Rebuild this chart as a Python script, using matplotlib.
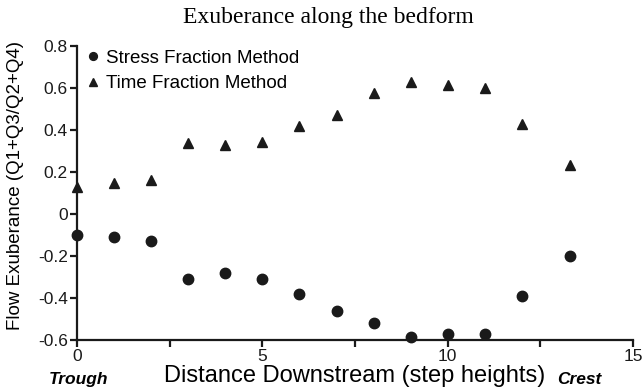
import matplotlib
matplotlib.use("Agg")
import matplotlib.pyplot as plt

# distance downstream in step heights
distance = [0, 1, 2, 3, 4, 5, 6, 7, 8, 9, 10, 11, 12, 13.3]
stress_fraction = [-0.10, -0.11, -0.13, -0.31, -0.28, -0.31, -0.38, -0.46,
                   -0.52, -0.585, -0.57, -0.57, -0.39, -0.20]
time_fraction = [0.13, 0.148, 0.163, 0.34, 0.327, 0.344, 0.417, 0.473,
                 0.576, 0.63, 0.614, 0.60, 0.427, 0.235]

plt.rcParams['font.family'] = ['Liberation Sans', 'DejaVu Sans']

fig = plt.figure(figsize=(6.44, 3.9), dpi=100)
ax = fig.add_axes([0.1196, 0.1282, 0.8634, 0.754])

ax.plot(distance, stress_fraction, 'o', color='#1a1a1a', markersize=7.5,
        clip_on=False, label='Stress Fraction Method')
ax.plot(distance, time_fraction, '^', color='#1a1a1a', markersize=7.5,
        clip_on=False, label='Time Fraction Method')

ax.set_xlim(0, 15)
ax.set_ylim(-0.6, 0.8)
ax.set_xticks([0, 2.5, 5, 7.5, 10, 12.5, 15])
ax.set_xticklabels(['0', '', '5', '', '10', '', '15'])
ax.set_yticks([-0.6, -0.4, -0.2, 0, 0.2, 0.4, 0.6, 0.8])
ax.set_yticklabels(['-0.6', '-0.4', '-0.2', '0', '0.2', '0.4', '0.6', '0.8'])

for side in ['top', 'right']:
    ax.spines[side].set_visible(False)
for side in ['left', 'bottom']:
    ax.spines[side].set_linewidth(1.6)
    ax.spines[side].set_color('#1a1a1a')
ax.tick_params(direction='out', length=5, width=1.6, labelsize=12.5,
               pad=1.5, colors='#1a1a1a')

ax.set_ylabel('Flow Exuberance (Q1+Q3/Q2+Q4)', fontsize=13.5, labelpad=0)
ax.yaxis.set_label_coords(-0.095, 0.527)
ax.set_xlabel('Distance Downstream (step heights)', fontsize=17, labelpad=0.5)

fig.text(0.51, 0.94, 'Exuberance along the bedform', ha='center',
         fontsize=17, family=['Liberation Serif', 'DejaVu Serif'])
fig.text(0.122, 0.015, 'Trough', ha='center', fontsize=12.5,
         fontweight='bold', fontstyle='italic')
fig.text(0.90, 0.015, 'Crest', ha='center', fontsize=12.5,
         fontweight='bold', fontstyle='italic')

ax.legend(loc='upper left', bbox_to_anchor=(-0.011, 1.026), frameon=False,
          fontsize=13.5, handletextpad=0.05, borderaxespad=0.2,
          labelspacing=0.45, markerscale=0.75, handlelength=1.2)

fig.savefig('out.png', dpi=100)
